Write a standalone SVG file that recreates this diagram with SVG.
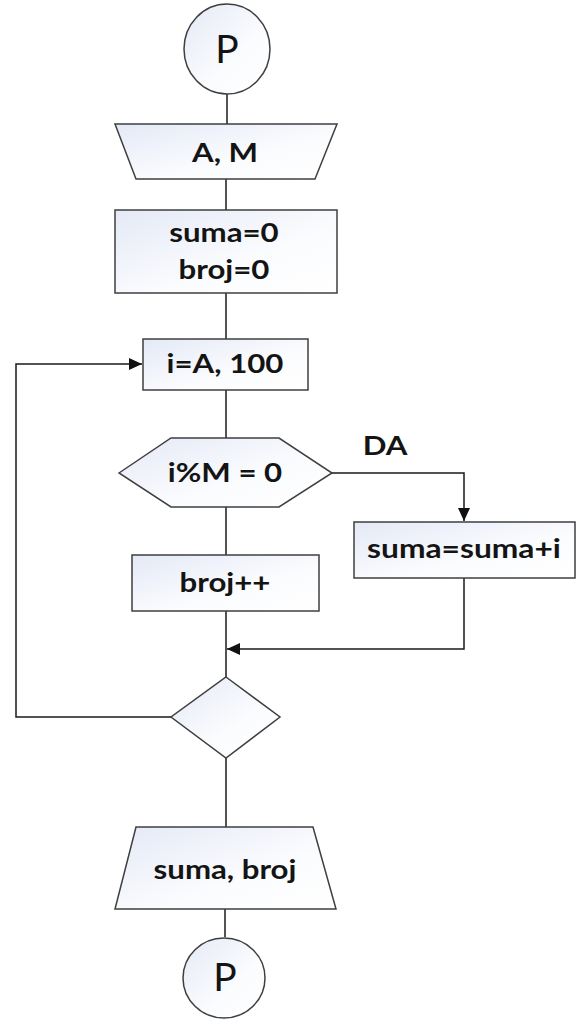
<svg xmlns="http://www.w3.org/2000/svg" width="579" height="1019" viewBox="0 0 579 1019">
<style>
.shape{fill:url(#g);stroke:#3f3f3f;stroke-width:1.5}
.conn{fill:none;stroke:#1a1a1a;stroke-width:1.5}
.lbl{font-family:Lato,"Liberation Sans",sans-serif;font-weight:bold;font-size:26px;fill:#141414;text-anchor:middle}
.term{font-family:Lato,"Liberation Sans",sans-serif;font-weight:normal;font-size:39px;fill:#141414;text-anchor:middle}
</style>
<defs>
<linearGradient id="g" x1="0" y1="0" x2="1" y2="1">
<stop offset="0" stop-color="#e4e9f6"/>
<stop offset="0.6" stop-color="#fbfcfe"/>
<stop offset="1" stop-color="#ffffff"/>
</linearGradient>
<marker id="arr" markerUnits="userSpaceOnUse" markerWidth="14" markerHeight="12" refX="13" refY="6" orient="auto">
<path d="M0,0 L13,6 L0,12 Z" fill="#111"/>
</marker>
</defs>
<g id="connectors">
<line class="conn" x1="227" y1="94" x2="227" y2="124"/>
<line class="conn" x1="226" y1="179" x2="226" y2="210"/>
<line class="conn" x1="226" y1="293" x2="226" y2="339"/>
<line class="conn" x1="226" y1="390" x2="226" y2="438"/>
<polyline class="conn" points="332,473 464,473 464,521" marker-end="url(#arr)"/>
<line class="conn" x1="226" y1="507" x2="226" y2="555"/>
<line class="conn" x1="226" y1="611" x2="226" y2="677"/>
<polyline class="conn" points="464,578 464,649 227,649" marker-end="url(#arr)"/>
<polyline class="conn" points="171,717 16,717 16,364 142,364" marker-end="url(#arr)"/>
<line class="conn" x1="226" y1="758" x2="226" y2="827"/>
<line class="conn" x1="225" y1="909" x2="225" y2="937"/>
<text class="lbl" transform="translate(385,455) scale(1.2,1)">DA</text>
</g>
<g id="start">
<ellipse class="shape" cx="227" cy="49" rx="43" ry="45"/>
<text class="term" x="227" y="63">P</text>
</g>
<g id="input">
<polygon class="shape" points="115,124 337,124 315,179 136,179"/>
<text class="lbl" transform="translate(225,162) scale(1.2,1)">A, M</text>
</g>
<g id="init">
<rect class="shape" x="115" y="210" width="222" height="83"/>
<text class="lbl" transform="translate(224,242) scale(1.2,1)">suma=0</text>
<text class="lbl" transform="translate(224,279) scale(1.2,1)">broj=0</text>
</g>
<g id="loop">
<rect class="shape" x="143" y="339" width="165" height="51"/>
<text class="lbl" transform="translate(225,373) scale(1.2,1)">i=A, 100</text>
</g>
<g id="cond">
<polygon class="shape" points="119,473 171,438 279,438 332,473 279,507 171,507"/>
<text class="lbl" transform="translate(225,482) scale(1.2,1)">i%M = 0</text>
</g>
<g id="sum">
<rect class="shape" x="354" y="522" width="221" height="56"/>
<text class="lbl" transform="translate(464,558) scale(1.22,1)">suma=suma+i</text>
</g>
<g id="count">
<rect class="shape" x="132" y="555" width="187" height="56"/>
<text class="lbl" transform="translate(225,592) scale(1.2,1)">broj++</text>
</g>
<g id="loopend">
<polygon class="shape" points="226,677 280,717 226,758 171,717"/>
</g>
<g id="output">
<polygon class="shape" points="136,827 313,827 336,909 115,909"/>
<text class="lbl" transform="translate(225,879) scale(1.2,1)">suma, broj</text>
</g>
<g id="end">
<ellipse class="shape" cx="224" cy="978" rx="41" ry="40"/>
<text class="term" x="225" y="991">P</text>
</g>
</svg>
